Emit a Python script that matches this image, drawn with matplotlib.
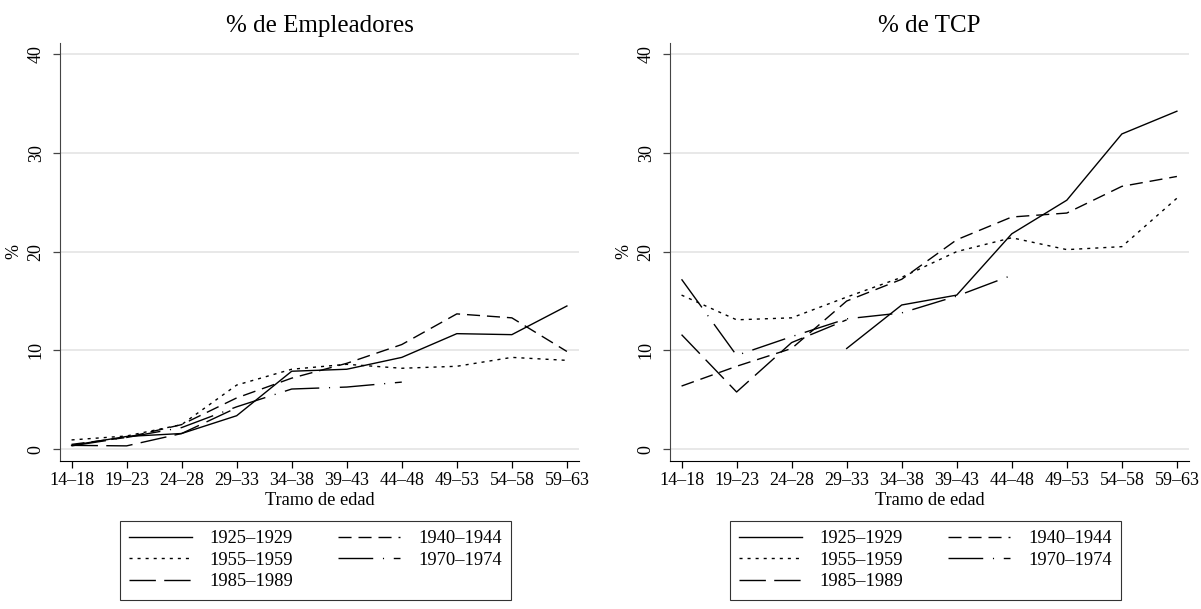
import numpy as np
import matplotlib
matplotlib.use("Agg")
import matplotlib.pyplot as plt

plt.rcParams['font.family'] = ['Liberation Serif', 'DejaVu Serif']

tramos = ["14–18", "19–23", "24–28", "29–33", "34–38", "39–43", "44–48", "49–53", "54–58", "59–63"]
cohortes = ["1925–1929", "1940–1944", "1955–1959", "1970–1974", "1985–1989"]

# % de Empleadores
emp_1925 = [0.4, 1.3, 1.6, 3.4, 7.9, 8.1, 9.3, 11.7, 11.6, 14.5]
emp_1940 = [0.5, 1.2, 2.5, 5.2, 7.2, 8.7, 10.6, 13.7, 13.3, 9.9]
emp_1955 = [0.95, 1.35, 2.5, 6.5, 8.1, 8.6, 8.2, 8.4, 9.3, 9.0]
emp_1970 = [0.35, 1.2, 2.2, 4.3, 6.1, 6.3, 6.8]
emp_1985 = [0.4, 0.35, 1.6, 4.2]

# % de TCP
tcp_1925 = [np.nan, np.nan, np.nan, 10.2, 14.6, 15.6, 21.8, 25.2, 31.9, 34.2]
tcp_1940 = [6.4, 8.4, 10.2, 15.0, 17.2, 21.2, 23.5, 23.9, 26.6, 27.6]
tcp_1955 = [15.6, 13.1, 13.3, 15.4, 17.4, 20.0, 21.4, 20.2, 20.5, 25.4]
tcp_1970 = [17.2, 9.5, 11.4, 13.2, 13.8, 15.5, 17.6]
tcp_1985 = [11.6, 5.8, 10.8, 13.1]

estilos = ['-', (0, (9.4, 5)), (0, (2.2, 3.6)), (0, (25, 7, 0.8, 7)), (0, (19, 6))]

fig = plt.figure(figsize=(12.01, 6.09), dpi=100)
ax1 = fig.add_axes([60/1201, 1-460.7/609, 519/1201, 417.7/609])
ax2 = fig.add_axes([670/1201, 1-460.7/609, 519/1201, 417.7/609])

paneles = [
    (ax1, "% de Empleadores", [emp_1925, emp_1940, emp_1955, emp_1970, emp_1985], 120),
    (ax2, "% de TCP", [tcp_1925, tcp_1940, tcp_1955, tcp_1970, tcp_1985], 730),
]

fs = 13
for ax, titulo, series, leg_x in paneles:
    lineas = []
    for serie, est, lab in zip(series, estilos, cohortes):
        x = np.arange(len(serie))
        l, = ax.plot(x, serie, color='black', lw=1.0, linestyle=est, label=lab)
        lineas.append(l)
    ax.set_xlim(-0.21, 9.22)
    ax.set_ylim(-1.15, 41.1)
    ax.set_xticks(range(len(tramos)))
    ax.set_xticklabels(tramos, fontsize=fs)
    ax.set_yticks([0, 10, 20, 30, 40])
    ax.set_yticklabels(["0", "10", "20", "30", "40"], fontsize=fs, rotation=90, va='center')
    ax.grid(axis='y', color='#e6e6e6', lw=1.3)
    ax.set_axisbelow(True)
    for s in ['top', 'right']:
        ax.spines[s].set_visible(False)
    ax.spines['left'].set_color('#444444')
    ax.spines['bottom'].set_color('black')
    ax.tick_params(axis='x', length=5, width=0.9, pad=3)
    ax.tick_params(axis='y', length=5, width=0.9, pad=6, colors='#444444', labelcolor='black')
    ax.set_xlabel("Tramo de edad", fontsize=13.2, labelpad=2)
    ax.set_ylabel("%", fontsize=fs, labelpad=4)
    ax.set_title(titulo, fontsize=18, pad=8)
    orden = [lineas[0], lineas[2], lineas[4], lineas[1], lineas[3]]
    leg = fig.legend(handles=orden, labels=[h.get_label() for h in orden], ncol=2,
                     loc='upper left', bbox_to_anchor=(leg_x/1201, 1-521/609),
                     fontsize=13.3, frameon=True, fancybox=False, handlelength=3.4,
                     handletextpad=0.95, columnspacing=2.4, labelspacing=0.25,
                     borderpad=0.5, borderaxespad=0)
    leg.get_frame().set_edgecolor('black')
    leg.get_frame().set_linewidth(0.8)

fig.savefig("out.png", dpi=100)
